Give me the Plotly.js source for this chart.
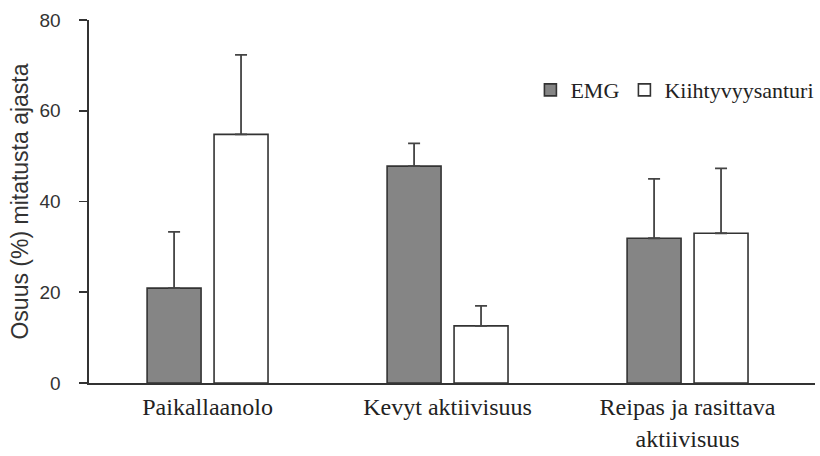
<!DOCTYPE html>
<html>
<head>
<meta charset="utf-8">
<script src="https://cdn.plot.ly/plotly-3.0.1.min.js"></script>
<style>html,body{margin:0;padding:0;background:#fff;}#chart{width:820px;height:456px;}</style>
</head>
<body>
<div id="chart"></div>
<script>
const categories = ["Paikallaanolo", "Kevyt aktiivisuus", "Reipas ja rasittava<br>aktiivisuus"];
const seriesNames = ["EMG", "Kiihtyvyysanturi"];
const emgValues = [20.9, 47.8, 31.9];
const emgErrors = [12.4, 5.0, 13.1];
const accValues = [54.8, 12.6, 33.0];
const accErrors = [17.5, 4.4, 14.3];
const zeroMinus = [0, 0, 0];
const yTicks = [0, 20, 40, 60, 80];

const serif = "'Liberation Serif', 'Times New Roman', Times, serif";
const sans = "'Liberation Sans', Arial, sans-serif";
const lineCol = '#333333';
const traces = [
  {
    type: 'bar', name: seriesNames[0], x: categories, y: emgValues,
    marker: {color: '#858585', line: {color: lineCol, width: 1.6}},
    error_y: {type: 'data', symmetric: false, array: emgErrors, arrayminus: zeroMinus,
              color: '#444444', thickness: 1.8, width: 6}
  },
  {
    type: 'bar', name: seriesNames[1], x: categories, y: accValues,
    marker: {color: '#ffffff', line: {color: lineCol, width: 1.6}},
    error_y: {type: 'data', symmetric: false, array: accErrors, arrayminus: zeroMinus,
              color: '#444444', thickness: 1.8, width: 6}
  }
];

const layout = {
  width: 820, height: 456,
  margin: {l: 89, r: 5, t: 20, b: 73, autoexpand: false},
  paper_bgcolor: '#ffffff', plot_bgcolor: '#ffffff',
  barmode: 'group', bargap: 0.442, bargroupgap: 0.194,
  showlegend: true,
  legend: {
    orientation: 'h', x: 0.608, y: 0.807, xanchor: 'left', yanchor: 'middle',
    font: {family: serif, size: 22, color: '#222222'},
    bgcolor: 'rgba(0,0,0,0)', borderwidth: 0, traceorder: 'normal'
  },
  xaxis: {
    type: 'category', range: [-0.494, 2.531], fixedrange: true,
    showline: true, linecolor: lineCol, linewidth: 1.6,
    ticks: '', showgrid: false, zeroline: false,
    tickfont: {family: serif, size: 24, color: '#222222'},
    ticklabelstandoff: 2
  },
  yaxis: {
    range: [0, 80], tickvals: yTicks, ticktext: yTicks.map(String),
    showline: true, linecolor: lineCol, linewidth: 1.6,
    ticks: 'outside', ticklen: 8, tickwidth: 1.6, tickcolor: lineCol,
    showgrid: false, zeroline: false,
    tickfont: {family: sans, size: 19, color: '#333333'},
    ticklabelstandoff: 15,
    title: {text: 'Osuus (%) mitatusta ajasta', standoff: 4,
            font: {family: sans, size: 23, color: '#333333'}}
  }
};

Plotly.newPlot('chart', traces, layout, {displayModeBar: false, staticPlot: true});
</script>
</body>
</html>
